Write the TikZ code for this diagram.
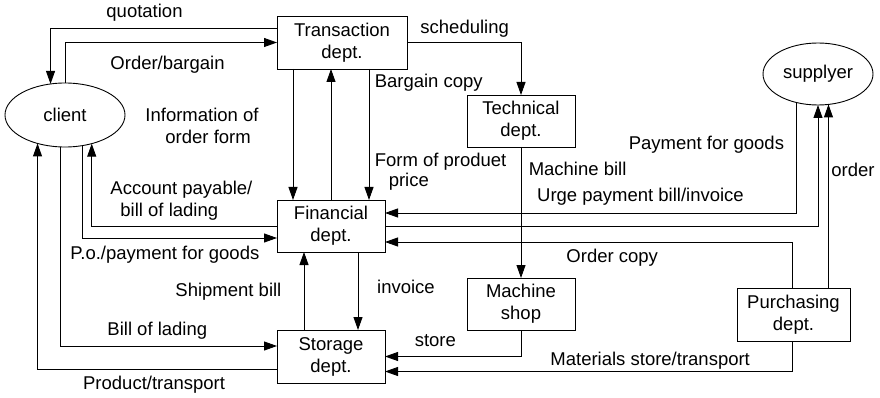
\documentclass[tikz,border=0pt]{standalone}
\usepackage{fontspec}
\setmainfont{Liberation Sans}
\usetikzlibrary{shapes.geometric,arrows.meta}

\tikzset{
    dept/.style={draw,rectangle,inner sep=0pt,outer sep=0pt,align=center},
    party/.style={draw,ellipse,inner sep=0pt,outer sep=0pt},
    flow/.style={-{Triangle[length=13pt,width=9pt]}},
    lbl/.style={anchor=base west,inner sep=0pt,align=left}
}

\begin{document}
\begin{tikzpicture}[x=1pt,y=-1pt,line width=0.9pt,font=\fontsize{18.5}{22}\selectfont]
    \useasboundingbox (0,0) rectangle (880,398);

    % outside parties
    \node[party,minimum width=120,minimum height=64] (client) at (65,115) {client};
    \node[party,minimum width=110,minimum height=62] (supp) at (818,74) {supplyer};

    % departments
    \node[dept,minimum width=130,minimum height=53] (trans) at (342,42.5) {Transaction\\dept.};
    \node[dept,minimum width=108,minimum height=52] (fin) at (331,226) {Financial\\dept.};
    \node[dept,minimum width=108,minimum height=53] (stor) at (331,356.5) {Storage\\dept.};
    \node[dept,minimum width=108,minimum height=52] (tech) at (521,121) {Technical\\dept.};
    \node[dept,minimum width=108,minimum height=52] (mach) at (521,304) {Machine\\shop};
    \node[dept,minimum width=113,minimum height=53] (purch) at (793.5,314.5) {Purchasing\\dept.};

    % client <-> transaction
    \draw[flow] ([yshift=14.5pt]trans.west) -| (client.115.8);                  % quotation
    \draw[flow] (client.north) |- (trans.west);                                 % order/bargain
    \node[lbl] (quot) at (106,17.7) {quotation};
    \node[lbl] (bargain) at (110,70) {Order/bargain};

    % transaction <-> financial
    \draw[flow] ([xshift=-49pt]trans.south) -- ([xshift=-49pt]trans.south |- fin.north);
    \draw[flow] (fin.north) -- (fin.north |- trans.south);
    \draw[flow] ([xshift=27pt]trans.south) -- ([xshift=27pt]trans.south |- fin.north);
    \node[lbl] (info) at (145,143.7) {Information of\\\hspace*{20pt}order form};
    \node[lbl] (copy) at (374.3,87.3) {Bargain copy};
    \node[lbl] (price) at (374.3,186.5) {Form of produet\\[-2pt]\hspace*{14pt}price};

    % transaction -> technical -> machine shop -> storage
    \draw[flow] (trans.east) -| (tech.north);
    \draw[flow] (tech.south) -- (mach.north);
    \draw[flow] (mach.south) |- (stor.east);
    \node[lbl] (sched) at (420,33.3) {scheduling};
    \node[lbl] (mbill) at (528.3,175.7) {Machine bill};
    \node[lbl] (store) at (414.3,346.7) {store};

    % supplier and purchasing
    \draw[flow] (supp.233.8) |- ([yshift=13pt]fin.east);                        % urge payment
    \draw[flow] (fin.east) -| (supp.south);                                     % payment
    \draw[flow] (supp.289.9 |- purch.north) -- (supp.289.9);                    % order
    \draw[flow] ([xshift=-1.5pt]purch.north) |- ([yshift=-16pt]fin.east);       % order copy
    \draw[flow] ([xshift=-1.5pt]purch.south) |- ([yshift=-15pt]stor.east);      % materials
    \node[lbl] (pay) at (628.3,150) {Payment for goods};
    \node[lbl] (urge) at (536.7,201.7) {Urge payment bill/invoice};
    \node[lbl] (ord) at (831,176.7) {order};
    \node[lbl] (ocopy) at (566,262.7) {Order copy};
    \node[lbl] (mat) at (550,365.7) {Materials store/transport};

    % client <-> financial and storage
    \draw[flow] (fin.west) -| (client.313.4);                                   % account payable
    \draw[flow] (client.299) |- ([yshift=-12pt]fin.west);                       % p.o.
    \draw[flow] (client.261.1) |- ([yshift=10.5pt]stor.west);                   % bill of lading
    \draw[flow] ([yshift=-12.5pt]stor.west) -| (client.226.6);                  % product
    \node[lbl] (acct) at (110,216.7) {Account payable/\\\hspace*{10pt}bill of lading};
    \node[lbl] (po) at (70,259.3) {P.o./payment for goods};
    \node[lbl] (lading) at (107,335) {Bill of lading};
    \node[lbl] (prod) at (82.7,389) {Product/transport};

    % financial <-> storage
    \draw[flow] ([xshift=-27pt]stor.north) -- ([xshift=-27pt]stor.north |- fin.south);
    \draw[flow] ([xshift=27pt]fin.south) -- ([xshift=27pt]fin.south |- stor.north);
    \node[lbl] (ship) at (175,296) {Shipment bill};
    \node[lbl] (inv) at (376.7,293.3) {invoice};
\end{tikzpicture}
\end{document}
